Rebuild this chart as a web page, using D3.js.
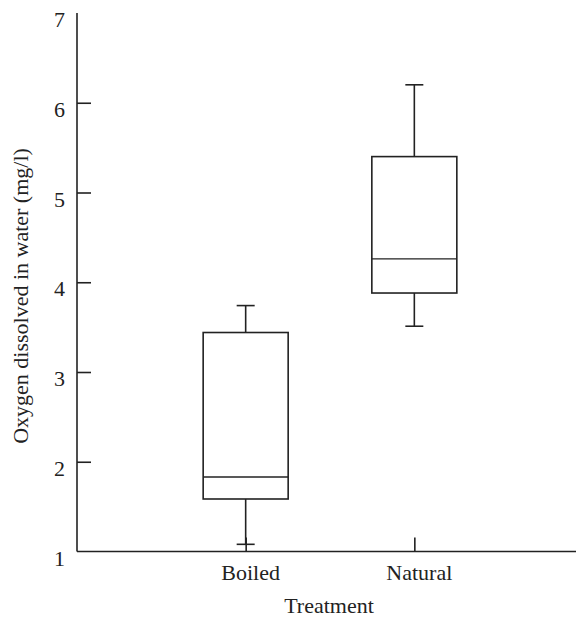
<!DOCTYPE html>
<html>
<head>
<meta charset="utf-8">
<script src="https://cdn.jsdelivr.net/npm/d3@7"></script>
<style>
  html, body { margin: 0; padding: 0; background: #fff; }
  svg { display: block; }
</style>
</head>
<body>
<svg id="chart" width="577" height="619"></svg>
<script>
// Data
const categories = ["Boiled", "Natural"];
const whiskerLow  = [1.08, 3.51];
const q1          = [1.585, 3.88];
const medians     = [1.83, 4.26];
const q3          = [3.44, 5.40];
const whiskerHigh = [3.74, 6.20];
const yTicks = [1, 2, 3, 4, 5, 6, 7];
const xTitle = "Treatment";
const yTitle = "Oxygen dissolved in water (mg/l)";

const boxes = categories.map((c, i) => ({
  cat: c, lo: whiskerLow[i], q1: q1[i], med: medians[i], q3: q3[i], hi: whiskerHigh[i]
}));

(function () {
const FONT = "'Liberation Serif', 'Times New Roman', Times, 'DejaVu Serif', serif";
const svg = d3.select("#chart");
const mLeft = 77, mRight = 576, mTop = 13, mBottom = 551.5;
const ink = "#222";
const sw = 1.6;

const y = d3.scaleLinear().domain([1, 7]).range([mBottom, mTop]);
const x = d3.scalePoint().domain(categories).range([mLeft, 583]).padding(1);

// Y axis
const yAxis = svg.append("g").attr("transform", `translate(${mLeft},0)`)
  .call(d3.axisRight(y).tickValues(yTicks).tickSize(14).tickFormat(d3.format("d")));
yAxis.attr("font-family", null).attr("font-size", null);
yAxis.select(".domain").remove();
yAxis.selectAll(".tick line").attr("stroke", ink).attr("stroke-width", sw);
yAxis.selectAll(".tick text")
  .attr("x", -12).attr("dy", "0.62em").attr("text-anchor", "end")
  .style("font-size", "22px").style("font-family", FONT).attr("fill", ink);
yAxis.selectAll(".tick").filter(d => d === 1 || d === 7).select("line").remove();

// Y axis line
svg.append("line").attr("x1", mLeft).attr("x2", mLeft).attr("y1", y(7)).attr("y2", mBottom)
  .attr("stroke", ink).attr("stroke-width", sw);

// X axis
const xAxis = svg.append("g").attr("transform", `translate(0,${mBottom})`)
  .call(d3.axisTop(x).tickSize(14).tickFormat(""));
xAxis.select(".domain").remove();
xAxis.selectAll(".tick line").attr("stroke", ink).attr("stroke-width", sw);
svg.append("line").attr("x1", mLeft).attr("x2", mRight).attr("y1", mBottom).attr("y2", mBottom)
  .attr("stroke", ink).attr("stroke-width", sw);

svg.append("g").selectAll("text").data(categories).join("text")
  .attr("x", d => x(d) + 5).attr("y", 580).attr("fill", ink)
  .attr("text-anchor", "middle").style("font-size", "22px").style("font-family", FONT).text(d => d);

// Axis titles
svg.append("text").attr("x", 329).attr("y", 613).attr("text-anchor", "middle").attr("fill", ink)
  .style("font-size", "22px").style("font-family", FONT).text(xTitle);
svg.append("text").attr("transform", "translate(27.5,296) rotate(-90)").attr("fill", ink)
  .attr("text-anchor", "middle").style("font-size", "22px").style("font-family", FONT).text(yTitle);

// Boxes
const boxW = 85, capW = 18;
const g = svg.append("g").attr("stroke", ink).attr("stroke-width", sw).attr("fill", "none");
const bg = g.selectAll("g.box").data(boxes).join("g").attr("class", "box");
bg.append("line").attr("x1", d => x(d.cat)).attr("x2", d => x(d.cat))
  .attr("y1", d => y(d.hi)).attr("y2", d => y(d.q3));
bg.append("line").attr("x1", d => x(d.cat)).attr("x2", d => x(d.cat))
  .attr("y1", d => y(d.q1)).attr("y2", d => y(d.lo));
bg.append("line").attr("x1", d => x(d.cat) - capW / 2).attr("x2", d => x(d.cat) + capW / 2)
  .attr("y1", d => y(d.hi)).attr("y2", d => y(d.hi));
bg.append("line").attr("x1", d => x(d.cat) - capW / 2).attr("x2", d => x(d.cat) + capW / 2)
  .attr("y1", d => y(d.lo)).attr("y2", d => y(d.lo));
bg.append("rect").attr("x", d => x(d.cat) - boxW / 2).attr("width", boxW)
  .attr("y", d => y(d.q3)).attr("height", d => y(d.q1) - y(d.q3)).attr("fill", "#fff");
bg.append("line").attr("x1", d => x(d.cat) - boxW / 2).attr("x2", d => x(d.cat) + boxW / 2)
  .attr("y1", d => y(d.med)).attr("y2", d => y(d.med)).attr("stroke-width", 1.3);
})();
</script>
</body>
</html>
